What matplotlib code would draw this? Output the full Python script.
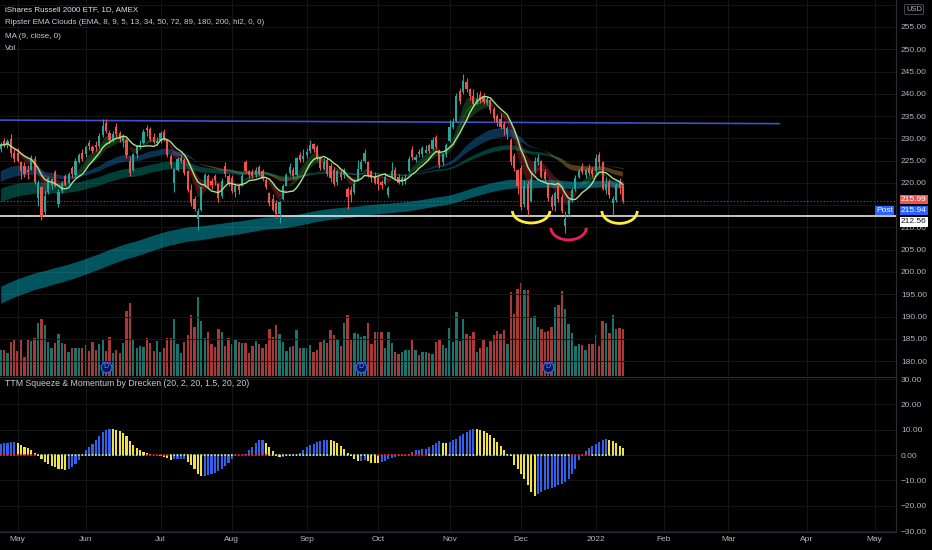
import matplotlib
matplotlib.use("Agg")
import matplotlib.pyplot as plt
from matplotlib.patches import Arc
from matplotlib.ticker import FuncFormatter
import numpy as np
import pandas as pd

# exchange calendar for the x axis (market holidays in range)
holidays = ["2021-05-31", "2021-07-05", "2021-09-06", "2021-11-25", "2021-12-24",
            "2022-01-17", "2022-02-21", "2022-04-15"]
days = pd.bdate_range("2021-04-26", "2022-05-31", freq="C", holidays=holidays)

# daily IWM candles, 2021-04-26 .. 2022-01-13
opens = [227.6, 229.4, 228.4, 229.8, 226.8, 226.6, 224.8, 223.8, 223.0, 223.0,
         225.4, 216.5, 219.0, 213.5, 218.0, 219.6, 222.4, 215.2, 218.2, 221.6,
         220.0, 223.4, 221.8, 224.8, 226.6, 226.4, 229.0, 228.0, 228.6, 228.2,
         230.8, 233.4, 231.2, 229.8, 232.6, 231.2, 229.4, 229.6, 225.0, 223.0,
         226.4, 228.0, 229.0, 232.4, 232.2, 230.4, 229.0, 229.6, 231.4, 229.6,
         226.0, 220.0, 223.0, 225.0, 225.2, 222.6, 218.4, 216.4, 212.0, 214.0,
         219.4, 221.6, 220.4, 221.6, 219.8, 217.0, 223.8, 221.6, 221.2, 218.0,
         219.2, 219.4, 224.6, 222.6, 222.4, 221.8, 223.6, 222.6, 220.6, 217.8,
         216.4, 215.4, 213.0, 216.4, 219.4, 222.2, 222.8, 221.8, 226.2, 225.4,
         226.2, 227.2, 228.8, 228.0, 225.6, 223.2, 225.2, 223.8, 222.8, 220.2,
         222.2, 221.8, 218.6, 218.4, 218.0, 220.6, 223.2, 225.0, 224.6, 222.6,
         221.6, 221.0, 220.2, 219.8, 217.2, 221.4, 222.8, 221.4, 220.2, 220.4,
         222.6, 227.4, 225.2, 227.0, 226.4, 226.8, 228.6, 227.6, 230.4, 227.4,
         224.6, 226.4, 229.4, 232.6, 234.0, 240.6, 240.4, 242.6, 241.0, 239.6,
         238.2, 239.8, 239.6, 238.0, 238.6, 236.6, 235.0, 234.4, 233.2, 231.0,
         229.6, 226.0, 222.8, 223.4, 215.2, 219.8, 216.0, 222.6, 224.8, 225.0,
         222.4, 219.8, 216.8, 214.8, 219.6, 216.8, 210.4, 213.0, 216.2, 218.6,
         221.4, 223.6, 221.8, 223.4, 222.8, 222.6, 226.2, 224.6, 218.4, 220.2,
         215.4, 216.2, 220.4, 219.2]
highs = [229.2, 230.0, 229.8, 231.0, 227.5, 227.8, 225.0, 224.8, 224.0, 226.2,
         226.0, 220.6, 219.4, 218.5, 221.4, 221.2, 223.0, 218.6, 220.5, 222.0,
         222.4, 223.8, 225.6, 226.8, 227.6, 228.6, 229.6, 228.6, 229.4, 231.2,
         234.3, 234.3, 231.8, 231.6, 233.4, 231.6, 231.0, 230.0, 226.0, 226.8,
         228.6, 229.6, 232.0, 233.0, 232.6, 231.2, 230.2, 231.6, 232.0, 229.8,
         226.4, 223.4, 225.8, 226.4, 225.6, 223.0, 219.8, 217.0, 214.4, 219.4,
         222.2, 222.0, 221.0, 222.0, 220.0, 221.0, 224.6, 222.0, 221.8, 219.8,
         219.8, 222.2, 225.2, 223.0, 223.2, 223.6, 224.0, 223.2, 221.0, 218.0,
         217.6, 216.2, 216.0, 219.8, 222.2, 224.4, 223.6, 225.9, 227.0, 227.6,
         227.8, 229.6, 229.0, 228.6, 226.0, 225.6, 225.6, 224.4, 223.6, 223.0,
         222.8, 223.4, 219.0, 219.4, 220.8, 225.1, 225.4, 227.6, 225.0, 223.0,
         222.4, 221.6, 220.6, 222.2, 219.2, 224.6, 223.6, 222.0, 221.6, 222.0,
         226.0, 228.2, 226.4, 227.6, 228.2, 228.6, 228.8, 230.2, 230.8, 227.6,
         226.8, 229.0, 234.1, 234.6, 240.2, 241.2, 244.4, 243.6, 241.4, 241.0,
         240.4, 240.6, 240.2, 239.6, 238.8, 237.0, 235.4, 235.6, 233.8, 232.8,
         230.0, 226.6, 223.2, 224.0, 220.6, 220.4, 222.4, 225.9, 226.4, 225.2,
         223.2, 220.2, 217.6, 218.2, 220.2, 217.6, 213.6, 216.6, 218.8, 221.8,
         223.4, 224.4, 223.4, 224.2, 223.6, 226.4, 227.0, 225.0, 221.4, 220.8,
         217.0, 220.0, 221.0, 219.6]
lows = [227.0, 228.0, 227.8, 225.8, 224.8, 224.6, 220.9, 221.4, 220.8, 222.8,
        219.8, 214.8, 211.6, 212.8, 217.6, 218.6, 219.0, 214.6, 217.8, 219.2,
        219.8, 221.2, 221.4, 224.4, 225.0, 225.8, 227.4, 226.6, 227.2, 227.8,
        230.4, 231.2, 229.0, 229.2, 230.4, 229.2, 228.0, 225.6, 221.6, 222.6,
        225.6, 227.6, 228.8, 230.6, 229.4, 228.8, 228.4, 229.0, 229.4, 225.8,
        223.4, 218.0, 222.6, 224.4, 221.8, 218.0, 214.8, 213.6, 209.4, 213.6,
        219.0, 218.8, 218.6, 219.6, 215.8, 216.6, 221.4, 219.2, 217.8, 216.8,
        217.6, 219.2, 222.2, 221.2, 221.2, 221.4, 221.6, 220.4, 218.6, 214.8,
        213.6, 212.2, 210.9, 216.2, 219.2, 221.8, 221.2, 221.6, 224.8, 224.8,
        225.6, 226.8, 227.0, 225.2, 222.8, 222.8, 221.6, 220.2, 219.4, 219.6,
        220.6, 221.2, 214.2, 215.8, 217.4, 220.4, 222.6, 224.4, 221.4, 220.2,
        219.8, 218.4, 218.6, 219.6, 216.8, 221.2, 220.8, 219.8, 219.6, 219.8,
        222.4, 225.2, 224.6, 225.8, 225.9, 226.6, 226.6, 227.4, 227.6, 223.4,
        224.0, 225.8, 229.2, 232.0, 233.6, 237.8, 240.0, 240.4, 238.6, 237.4,
        237.8, 238.0, 237.6, 237.4, 235.8, 234.0, 232.8, 232.0, 230.8, 229.8,
        224.0, 222.6, 217.4, 214.0, 214.6, 212.6, 215.6, 222.2, 224.0, 221.0,
        220.2, 216.0, 214.0, 213.6, 215.8, 213.2, 208.7, 212.4, 215.6, 218.2,
        221.0, 222.0, 221.2, 221.8, 221.4, 222.0, 223.4, 218.4, 217.6, 216.6,
        212.9, 215.6, 217.4, 215.4]
closes = [228.5, 228.6, 229.3, 226.6, 225.4, 225.0, 222.6, 222.0, 222.4, 225.6,
          220.2, 220.0, 212.3, 217.0, 221.0, 220.8, 219.4, 218.0, 220.0, 219.6,
          222.0, 222.0, 225.0, 226.2, 225.4, 228.0, 228.2, 227.2, 228.0, 230.6,
          232.8, 231.6, 229.6, 231.0, 230.9, 229.8, 230.2, 226.2, 222.2, 226.4,
          228.2, 228.6, 231.4, 231.8, 229.8, 229.2, 229.4, 231.2, 229.8, 226.2,
          224.0, 223.2, 225.4, 225.6, 222.2, 218.4, 215.4, 214.2, 213.6, 219.0,
          221.8, 219.4, 219.6, 220.6, 216.6, 220.4, 222.0, 220.0, 218.2, 219.4,
          218.4, 221.6, 222.6, 221.8, 221.6, 223.0, 222.0, 220.8, 219.0, 215.4,
          214.0, 213.0, 215.6, 219.4, 221.8, 223.6, 221.6, 225.6, 225.2, 226.0,
          227.0, 228.6, 227.6, 225.6, 223.4, 224.6, 222.0, 221.0, 219.8, 222.6,
          221.4, 222.8, 216.8, 217.2, 219.8, 223.2, 224.6, 226.6, 221.8, 221.0,
          220.0, 219.8, 219.6, 221.4, 218.8, 222.6, 221.2, 220.0, 221.0, 221.2,
          225.4, 225.8, 225.8, 226.4, 227.8, 227.4, 227.2, 229.6, 228.0, 224.0,
          226.4, 228.6, 232.6, 233.6, 239.4, 238.4, 242.8, 241.0, 239.4, 237.8,
          238.8, 238.6, 238.2, 238.9, 236.4, 234.6, 233.6, 232.6, 232.0, 232.4,
          224.6, 223.4, 219.4, 214.6, 219.4, 214.0, 220.8, 225.0, 225.6, 221.4,
          220.8, 216.6, 214.6, 217.8, 216.4, 213.8, 211.8, 216.2, 218.4, 221.0,
          222.6, 222.4, 222.8, 222.2, 222.0, 225.6, 224.6, 218.6, 219.8, 217.2,
          216.4, 219.6, 218.8, 215.99]
# volume, millions of shares
volumes = [19.5, 19.5, 17.0, 25.8, 27.0, 19.0, 27.0, 14.0, 27.8, 26.5,
           28.3, 39.5, 42.5, 38.3, 25.3, 20.8, 24.5, 31.5, 25.0, 24.0,
           18.3, 20.8, 20.8, 21.3, 20.8, 23.3, 19.0, 25.3, 19.5, 24.0,
           27.8, 19.0, 29.5, 17.0, 19.5, 17.5, 24.5, 49.0, 55.0, 27.0,
           21.3, 22.5, 22.0, 28.3, 25.0, 19.0, 26.3, 18.3, 21.3, 28.3,
           28.8, 42.8, 24.0, 17.0, 25.8, 30.8, 45.8, 37.0, 59.0, 41.3,
           28.8, 33.3, 23.8, 22.0, 35.3, 33.3, 22.5, 28.8, 24.0, 27.8,
           25.8, 24.5, 24.5, 17.5, 22.5, 26.3, 24.0, 20.8, 24.0, 35.3,
           29.5, 38.3, 31.5, 25.8, 19.0, 22.0, 22.5, 34.5, 20.8, 20.8,
           20.8, 23.3, 18.3, 19.5, 25.8, 27.8, 24.5, 34.5, 30.8, 27.8,
           22.8, 40.0, 45.8, 27.0, 32.5, 31.5, 29.0, 30.0, 40.0, 24.0,
           33.3, 33.3, 32.8, 20.8, 33.3, 25.0, 18.3, 16.5, 18.3, 19.5,
           19.5, 27.8, 19.5, 15.8, 18.3, 17.8, 17.0, 16.5, 25.3, 27.0,
           23.3, 20.8, 35.8, 25.8, 47.8, 26.3, 42.8, 31.5, 30.3, 32.8,
           18.3, 20.8, 27.5, 22.0, 26.3, 30.8, 33.8, 31.3, 34.5, 24.0,
           63.3, 46.5, 65.3, 69.5, 64.5, 64.5, 43.8, 45.0, 37.0, 35.0,
           33.3, 34.0, 37.0, 51.5, 53.3, 63.8, 50.3, 38.8, 32.5, 22.5,
           24.0, 23.3, 19.5, 23.8, 24.0, 30.8, 22.5, 41.3, 39.5, 32.0,
           45.8, 35.3, 35.8, 35.0]
# TTM squeeze momentum histogram
momentum = [4.3, 4.6, 4.8, 5.0, 5.0, 4.6, 4.0, 3.3, 2.6, 1.8,
            0.9, -0.3, -1.5, -2.7, -3.6, -4.3, -4.7, -5.4, -5.7, -5.9,
            -5.4, -4.7, -3.6, -1.8, 0.2, 2.0, 3.3, 4.4, 6.0, 7.4,
            9.0, 10.0, 10.4, 10.2, 9.9, 9.3, 8.6, 7.4, 5.6, 3.9,
            2.8, 1.8, 1.2, 0.9, 0.4, 0.2, 0.1, -0.2, -0.6, -1.2,
            -1.9, -1.7, -1.6, -1.5, -1.4, -2.6, -3.8, -5.5, -7.5, -8.4,
            -8.2, -7.9, -7.6, -7.0, -6.3, -5.4, -4.5, -3.3, -1.5, -0.3,
            -0.1, 0.0, 0.6, 2.0, 3.3, 4.6, 5.8, 6.0, 4.7, 3.0,
            1.4, -0.4, -0.9, -0.7, -0.4, -0.2, 0.0, 0.2, 0.8, 2.0,
            3.0, 4.0, 4.2, 5.0, 5.6, 6.0, 6.1, 6.0, 5.6, 4.7,
            3.6, 2.2, 0.8, -0.4, -1.5, -2.5, -2.2, -2.0, -2.5, -3.0,
            -3.2, -3.3, -2.6, -2.2, -1.7, -1.2, -0.8, -0.5, -0.3, -0.2,
            0.4, 1.2, 1.8, 2.1, 2.3, 2.4, 3.2, 4.0, 4.8, 5.4,
            4.9, 4.7, 5.3, 5.8, 6.5, 7.4, 8.4, 9.2, 9.9, 10.3,
            10.1, 9.8, 9.3, 8.6, 7.8, 6.7, 5.3, 3.6, 1.9, 0.6,
            -0.3, -3.8, -5.6, -7.5, -9.6, -12.0, -14.5, -16.2, -15.2, -14.6,
            -14.0, -13.4, -13.0, -12.6, -12.0, -11.3, -10.6, -9.6, -7.6, -5.5,
            -2.0, -0.3, 1.4, 2.6, 3.5, 4.3, 5.2, 5.8, 6.3, 6.0,
            5.4, 4.6, 3.6, 2.9]
squeeze_on = [(0, 10), (43, 49), (69, 78), (111, 125), (168, 173)]
dividends = ["2021-06-09", "2021-09-24", "2021-12-13"]

ema_pairs = [(8, 9), (5, 13), (34, 50), (72, 89), (180, 200)]
ema_seed = {34: 222.6, 50: 220.2, 72: 218.8, 89: 215.8, 180: 196.8, 200: 193.0}
cloud_colors = [("#036103", "#880e4f", 0.55), ("#4caf50", "#f44336", 0.28),
                ("#2196f3", "#ffb74d", 0.33), ("#009688", "#f06292", 0.42),
                ("#05bed5", "#e65100", 0.45)]

last_price = 215.99
post_price = 215.94
support = 212.56
trend = [("2021-04-26", 234.1), ("2022-03-22", 233.3)]
arcs = [("2021-12-06", 213.7, 11.0, 5.4, "#ffeb3b"),
        ("2021-12-21", 209.9, 10.4, 5.4, "#e91e63"),
        ("2022-01-12", 213.7, 10.4, 5.6, "#ffeb3b")]
hidden_ticks = [215, 260]   # covered by the scale labels on the chart

plt.rcParams["font.family"] = ["Liberation Sans", "DejaVu Sans"]
txt = "#b2b5be"
grid = "#161616"
edge = "#2a2e39"
up_c, dn_c = "#26a69a", "#ef5350"

n = len(closes)
x = np.arange(n)
o, h, l, c = map(np.array, (opens, highs, lows, closes))
hl2 = (h + l) / 2
up = c >= o
col = np.where(up, up_c, dn_c)


def ema(src, span, seed=None):
    a = 2.0 / (span + 1)
    out = np.empty(len(src))
    out[0] = src[0] if seed is None else seed
    for k in range(1, len(src)):
        out[k] = a * src[k] + (1 - a) * out[k - 1]
    return out


def pos(d):
    return days.get_loc(pd.Timestamp(d))


fig = plt.figure(figsize=(9.32, 5.5), dpi=100, facecolor="black")
ax = fig.add_axes([0, 0.3164, 0.9614, 0.6836])
ax_vol = ax.twinx()
ax.set_zorder(ax_vol.get_zorder() + 1)
ax.patch.set_visible(False)
ax_vol.set_facecolor("black")
ax_m = fig.add_axes([0, 0.0327, 0.9614, 0.2818], sharex=ax)
ax_m.set_facecolor("black")

# volume
ax_vol.bar(x, volumes, width=0.7, color=col, alpha=0.7, lw=0)
ax_vol.set_ylim(0, 282)
ax_vol.set_yticks([])
for d in dividends:
    ax_vol.scatter(pos(d), 6.8, s=60, facecolor="#0b1a4a", edgecolor="#2962ff", lw=1, zorder=5)
    ax_vol.text(pos(d), 6.8, "D", ha="center", va="center", fontsize=5, color="#6d8cff", zorder=6)

# EMA clouds on hl2
for (fa, sl), (bull, bear, alpha) in zip(ema_pairs, cloud_colors):
    e1 = ema(hl2, fa, ema_seed.get(fa))
    e2 = ema(hl2, sl, ema_seed.get(sl))
    ax.fill_between(x, e1, e2, where=e1 >= e2, interpolate=True, color=bull, alpha=alpha, lw=0, zorder=2)
    ax.fill_between(x, e1, e2, where=e1 < e2, interpolate=True, color=bear, alpha=alpha, lw=0, zorder=2)

# candles
ax.vlines(x, l, h, colors=col, lw=0.8, zorder=4)
ax.bar(x, np.maximum(np.abs(c - o), 0.15), bottom=np.minimum(o, c), width=0.62, color=col, lw=0, zorder=5)

ma9 = pd.Series(c).rolling(9, min_periods=1).mean()
ax.plot(x, ma9, color="#a3e68c", lw=1.0, zorder=6)

# drawings
ax.plot([pos(d) for d, _ in trend], [p for _, p in trend], color="#3f51c8", lw=1.2, zorder=3)
ax.axhline(support, color="#e6e6e6", lw=1.2, zorder=3)
ax.axhline(post_price, color="#2962ff", lw=0.8, ls=(0, (1, 2)), zorder=3)
for d, p, w, hh, cc in arcs:
    ax.add_patch(Arc((pos(d), p), w, hh, theta1=180, theta2=360, color=cc, lw=2, zorder=7))

ax.set_ylim(176.65, 261.06)
ax.set_xlim(-0.2, 263.3)
ax.yaxis.tick_right()
ax.set_yticks(np.arange(180, 261, 5))
ax.yaxis.set_major_formatter(FuncFormatter(lambda v, p: "" if round(v) in hidden_ticks else f"{v:.2f}"))
ax.tick_params(axis="y", length=0, pad=3.5, labelsize=6, labelcolor=txt)

# month ticks
starts = [i for i in range(1, len(days)) if days[i].month != days[i - 1].month and i < 263]
labels = [str(days[i].year) if days[i].month == 1 else days[i].strftime("%b") for i in starts]
ax_m.set_xticks(starts)
ax_m.set_xticklabels(labels)
ax.tick_params(axis="x", length=0, labelbottom=False)
ax_m.tick_params(axis="x", length=0, pad=3, labelsize=6, labelcolor=txt)

for a in (ax, ax_m):
    a.grid(True, color=grid, lw=0.7)
    a.set_axisbelow(True)
    for s in a.spines.values():
        s.set_color(edge)
        s.set_linewidth(0.8)
    a.spines["left"].set_visible(False)
for s in ax_vol.spines.values():
    s.set_visible(False)
ax.spines["top"].set_visible(False)
ax.spines["bottom"].set_visible(False)

# momentum pane
mom = np.array(momentum)
rising = np.r_[True, mom[1:] >= mom[:-1]]
ax_m.bar(x, mom, width=0.6, color=np.where(rising, "#2f62e8", "#f2e33c"), lw=0, zorder=3)
dot = np.array(["#b8e3a6"] * n)
for a0, a1 in squeeze_on:
    dot[a0:a1 + 1] = "#ff2020"
ax_m.scatter(x, np.zeros(n), s=2.2, c=dot, lw=0, zorder=4)
ax_m.set_ylim(-30.4, 30.8)
ax_m.yaxis.tick_right()
ax_m.set_yticks(np.arange(-30, 31, 10))
ax_m.yaxis.set_major_formatter(FuncFormatter(lambda v, p: f"{v:.2f}".replace("-", "\u2212")))
ax_m.tick_params(axis="y", length=0, pad=3.5, labelsize=6, labelcolor=txt)

# price labels on the scale
yt = ax.get_yaxis_transform()
for val, fc, tc, dy in [(last_price, "#ef5350", "white", 1.0),
                        (post_price, "#2962ff", "white", -6.8),
                        (support, "white", "#131722", -4.2)]:
    ax.annotate(f"{val:.2f}", xy=(1, val), xycoords=yt, xytext=(3.5, dy), textcoords="offset points",
                ha="left", va="center", fontsize=6, color=tc, annotation_clip=False, zorder=10,
                bbox=dict(boxstyle="square,pad=0.15", fc=fc, ec="none"))
ax.annotate("Post", xy=(1, post_price), xycoords=yt, xytext=(-2, -6.8), textcoords="offset points",
            ha="right", va="center", fontsize=6, color="white", zorder=10,
            bbox=dict(boxstyle="square,pad=0.15", fc="#2962ff", ec="none"))
fig.text(914 / 932, 1 - 9.5 / 550, "USD", ha="center", va="center", fontsize=5.5, color=txt,
         bbox=dict(boxstyle="round,pad=0.2", fc="black", ec="#50535e", lw=0.6))

# legend texts
lines = ["iShares Russell 2000 ETF, 1D, AMEX",
         "Ripster EMA Clouds (EMA, 8, 9, 5, 13, 34, 50, 72, 89, 180, 200, hl2, 0, 0)",
         "MA (9, close, 0)", "Vol"]
for k, t in enumerate(lines):
    fig.text(5 / 932, 1 - (10 + 13 * k) / 550, t, ha="left", va="center", fontsize=5.8,
             color="#e0e3eb" if k == 0 else "#c8cbd3")
fig.text(5 / 932, 1 - 384 / 550, "TTM Squeeze & Momentum by Drecken (20, 2, 20, 1.5, 20, 20)",
         ha="left", va="center", fontsize=6.3, color="#c8cbd3")

fig.savefig("out.png", dpi=100, facecolor="black")
